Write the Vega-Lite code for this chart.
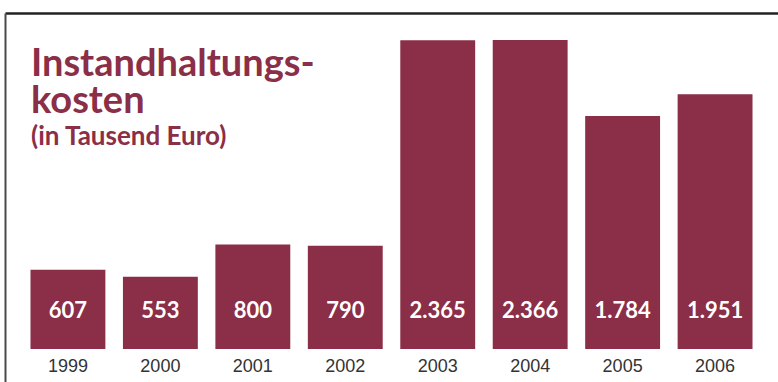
{
  "$schema": "https://vega.github.io/schema/vega-lite/v6.json",
  "autosize": "none",
  "width": 773,
  "height": 369,
  "padding": {"left": 5, "top": 13, "right": 0, "bottom": 0},
  "background": "white",
  "config": {
    "view": {"stroke": null},
    "locale": {"number": {"decimal": ",", "thousands": ".", "grouping": [3], "currency": ["", " €"]}}
  },
  "title": {
    "text": ["Instandhaltungs-", "kosten"],
    "subtitle": "(in Tausend Euro)",
    "orient": "top",
    "anchor": "start",
    "frame": "group",
    "dx": 26,
    "dy": 141,
    "font": "Lato",
    "fontSize": 38,
    "fontWeight": "bold",
    "lineHeight": 37,
    "color": "#8b2e47",
    "subtitleFont": "Lato",
    "subtitleFontSize": 26,
    "subtitleFontWeight": "bold",
    "subtitleColor": "#8b2e47",
    "subtitlePadding": 3
  },
  "data": {
    "values": [
      {"year": "1999", "value": 607},
      {"year": "2000", "value": 553},
      {"year": "2001", "value": 800},
      {"year": "2002", "value": 790},
      {"year": "2003", "value": 2365},
      {"year": "2004", "value": 2366},
      {"year": "2005", "value": 1784},
      {"year": "2006", "value": 1951}
    ]
  },
  "encoding": {
    "x": {
      "field": "year",
      "type": "ordinal",
      "scale": {"paddingInner": 0.19, "paddingOuter": 0.2757}
    }
  },
  "layer": [
    {
      "mark": {"type": "bar", "color": "#8b2e47"},
      "encoding": {
        "x": {
          "field": "year",
          "type": "ordinal",
          "axis": {
            "orient": "bottom",
            "title": null,
            "domain": false,
            "ticks": false,
            "tickSize": 0,
            "labelPadding": 0,
            "offset": -11,
            "labelBaseline": "alphabetic",
            "labelAngle": 0,
            "labelFont": "Liberation Sans",
            "labelFontSize": 18,
            "labelColor": "#333333"
          }
        },
        "y": {
          "field": "value",
          "type": "quantitative",
          "scale": {"domain": [-252.7, 2572.8], "nice": false, "zero": false},
          "axis": {
            "orient": "left",
            "title": null,
            "domain": true,
            "domainColor": "#4a4a4a",
            "domainWidth": 2,
            "ticks": false,
            "labels": false,
            "grid": false
          }
        }
      }
    },
    {
      "mark": {"type": "text", "color": "white", "font": "Lato", "fontSize": 22, "fontWeight": "bold", "baseline": "middle"},
      "encoding": {
        "x": {
          "field": "year",
          "type": "ordinal",
          "axis": {
            "orient": "top",
            "title": null,
            "domain": true,
            "domainColor": "#222222",
            "domainWidth": 2.5,
            "ticks": false,
            "labels": false,
            "grid": false
          }
        },
        "y": {"datum": 290, "type": "quantitative"},
        "text": {"field": "value", "type": "quantitative", "format": ",d"}
      }
    }
  ]
}
